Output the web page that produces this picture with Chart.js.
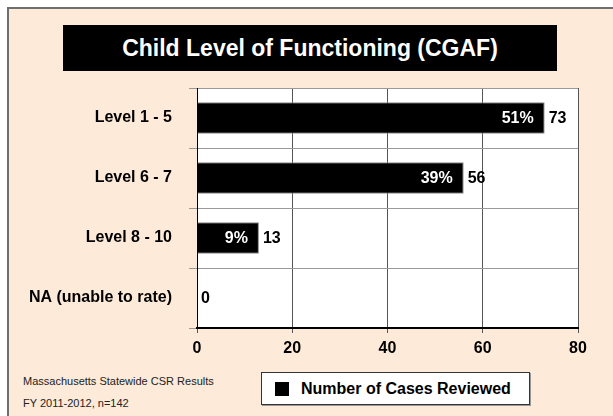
<!DOCTYPE html>
<html>
<head>
<meta charset="utf-8">
<script src="https://cdn.jsdelivr.net/npm/chart.js@4"></script>
<style>
  body { margin: 0; background: #fff; font-family: "Liberation Sans", Arial, sans-serif; }
  #wrap { position: relative; width: 613px; height: 416px; overflow: hidden; }
  #panel { position: absolute; left: 7px; top: 7px; right: -4px; bottom: -4px;
           background: #fdead8; border-left: 2px solid #6e6e6e; border-top: 2px solid #6e6e6e; }
  #title { position: absolute; left: 63px; top: 25px; width: 494px; height: 46px;
           background: #000; color: #fff; font-weight: bold; font-size: 23px;
           line-height: 46px; text-align: center; }
  #note { position: absolute; left: 23px; top: 370px; font-size: 11px; color: #222; line-height: 22px; }
  #legend { position: absolute; left: 261px; top: 372px; width: 267px; height: 31px;
            background: #fff; border: 1px solid #333; box-shadow: 1px 1px 0 #999;
            font-weight: bold; font-size: 16px; line-height: 31px; }
  #legend span.box { position: absolute; left: 13px; top: 9px; width: 14px; height: 14px; background: #000; }
  #legend span.txt { position: absolute; left: 39px; top: 0; }
  canvas { position: absolute; left: 0; top: 0; }
</style>
</head>
<body>
<div id="wrap">
  <div id="panel"></div>
  <div id="title">Child Level of Functioning (CGAF)</div>
  <div id="note">Massachusetts Statewide CSR Results<br>FY 2011-2012, n=142</div>
  <div id="legend"><span class="box"></span><span class="txt" id="legendText"></span></div>
  <canvas id="chart" width="613" height="416"></canvas>
</div>
<script>
const categories = ['Level 1 - 5', 'Level 6 - 7', 'Level 8 - 10', 'NA (unable to rate)'];
const cases = [73, 56, 13, 0];
const percents = [51, 39, 9, 0];
const xTicks = [0, 20, 40, 60, 80];
const seriesName = 'Number of Cases Reviewed';

const FONT = '"Liberation Sans", Arial, sans-serif';

document.getElementById('legendText').textContent = seriesName;

// white plot background
const plotBg = {
    id: 'plotBg',
    beforeDraw(chart) {
        const a = chart.chartArea;
        const ctx = chart.ctx;
        ctx.save();
        ctx.fillStyle = '#fff';
        ctx.fillRect(a.left, a.top, a.right - a.left, a.bottom - a.top);
        ctx.restore();
    }
};

// percent inside the bar, count just after it
const barLabels = {
    id: 'barLabels',
    afterDatasetsDraw(chart) {
        const ctx = chart.ctx;
        const meta = chart.getDatasetMeta(0);
        ctx.save();
        ctx.font = 'bold 16px ' + FONT;
        ctx.textBaseline = 'middle';
        meta.data.forEach((bar, i) => {
            if (percents[i] > 0) {
                ctx.fillStyle = '#fff';
                ctx.textAlign = 'right';
                ctx.fillText(percents[i] + '%', bar.x - 11, bar.y + 1);
            }
            ctx.fillStyle = '#000';
            ctx.textAlign = 'left';
            ctx.fillText(String(cases[i]), bar.x + 4, bar.y + 1);
        });
        ctx.restore();
    }
};

const ctx = document.getElementById('chart').getContext('2d');
new Chart(ctx, {
    type: 'bar',
    data: {
        labels: categories,
        datasets: [{
            label: seriesName,
            data: cases,
            backgroundColor: '#000',
            borderColor: '#8a8a8a',
            borderWidth: 1,
            barPercentage: 0.58,
            categoryPercentage: 0.9
        }]
    },
    options: {
        indexAxis: 'y',
        responsive: false,
        animation: false,
        layout: {
            padding: { top: 88, right: 35, bottom: 58, left: 0 }
        },
        plugins: {
            legend: { display: false },
            tooltip: { enabled: false }
        },
        scales: {
            x: {
                min: xTicks[0],
                max: xTicks[xTicks.length - 1],
                afterBuildTicks: (scale) => { scale.ticks = xTicks.map(v => ({ value: v })); },
                afterFit: (scale) => { scale.height = 30; },
                grid: { color: '#555', lineWidth: 1, tickLength: 5 },
                border: { color: '#000', width: 2 },
                ticks: {
                    color: '#000',
                    padding: 6,
                    font: { family: FONT, size: 16, weight: 'bold' }
                }
            },
            y: {
                afterFit: (scale) => { scale.width = 197; },
                grid: { color: '#999', lineWidth: 1, tickLength: 8, offset: true },
                border: { color: '#000', width: 1 },
                ticks: {
                    color: '#000',
                    padding: 17,
                    font: { family: FONT, size: 16, weight: 'bold' }
                }
            }
        }
    },
    plugins: [plotBg, barLabels]
});
</script>
</body>
</html>
